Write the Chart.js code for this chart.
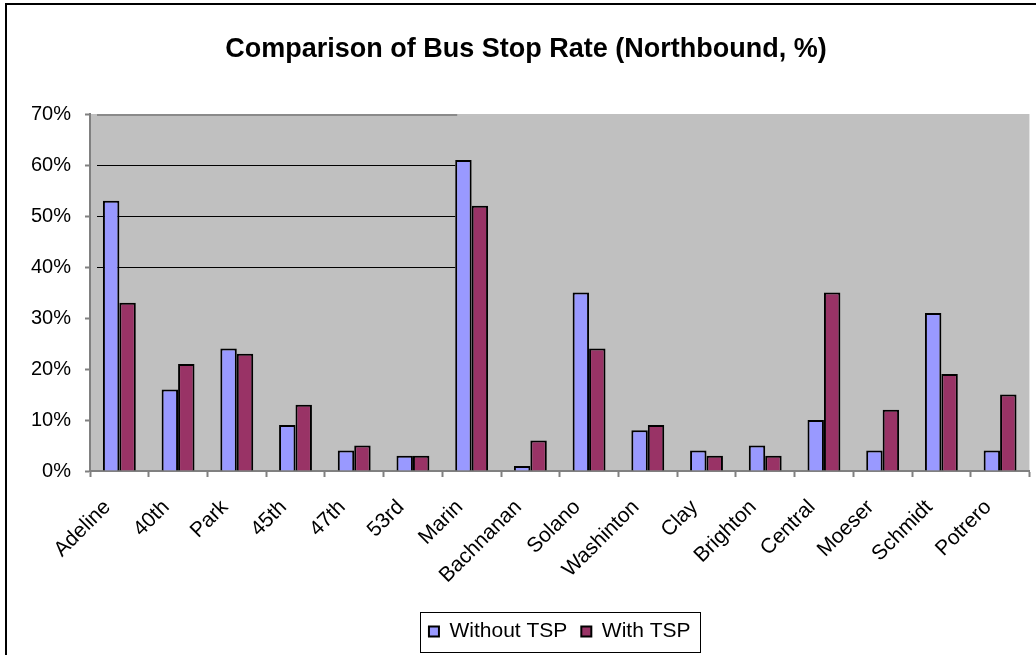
<!DOCTYPE html>
<html>
<head>
<meta charset="utf-8">
<script src="https://cdn.jsdelivr.net/npm/chart.js@4"></script>
<style>
  html, body { margin: 0; padding: 0; background: #fff; overflow: hidden; }
  #wrap { width: 1036px; height: 655px; position: relative; }
</style>
</head>
<body>
<div id="wrap"><canvas id="c" width="1036" height="655"></canvas></div>
<script>
// Stop names along the northbound route
const stops = ['Adeline', '40th', 'Park', '45th', '47th', '53rd', 'Marin', 'Bachnanan',
               'Solano', 'Washinton', 'Clay', 'Brighton', 'Central', 'Moeser', 'Schmidt', 'Potrero'];
// Stop rate in percent, without and with transit signal priority
const withoutTSP = [53, 16, 24, 9, 4, 3, 61, 1, 35, 8, 4, 5, 10, 4, 31, 4];
const withTSP    = [33, 21, 23, 13, 5, 3, 52, 6, 24, 9, 3, 3, 35, 12, 19, 15];
// Value axis range and step (percent)
const yMin = 0, yMax = 70, yStep = 10;

const FONT = "'Liberation Sans', Arial, sans-serif";

// Grey plot area and the outer frame of the chart
const backdrop = {
  id: 'backdrop',
  beforeDraw(chart) {
    const { ctx, chartArea: a } = chart;
    ctx.save();
    ctx.fillStyle = '#ffffff';
    ctx.fillRect(0, 0, chart.width, chart.height);
    ctx.fillStyle = '#c0c0c0';
    ctx.fillRect(a.left, a.top, a.right - a.left, a.bottom - a.top);
    ctx.strokeStyle = '#000000';
    ctx.lineWidth = 2;
    ctx.strokeRect(6, 4, chart.width + 20, chart.height + 20);
    ctx.restore();
  }
};

// Upper gridlines, running from the value axis to the Marin group
const partialGrid = {
  id: 'partialGrid',
  beforeDatasetsDraw(chart) {
    const { ctx, chartArea: a } = chart;
    const y = chart.scales.y;
    const meta = chart.getDatasetMeta(0);
    const stopIdx = stops.indexOf('Marin');
    const bar = meta.data[stopIdx];
    if (!bar) return;
    const xEnd = bar.x - bar.width / 2;
    const xStart = a.left + 7;
    ctx.save();
    y.ticks.forEach(t => {
      if (t.value < 40) return;
      const py = Math.round(y.getPixelForValue(t.value));
      ctx.beginPath();
      if (t.value === yMax) {
        ctx.strokeStyle = '#8a8a8a';
        ctx.lineWidth = 2;
        ctx.moveTo(xStart, py + 1);
        ctx.lineTo(xEnd + 2, py + 1);
      } else {
        ctx.strokeStyle = '#000000';
        ctx.lineWidth = 1;
        ctx.moveTo(xStart, py + 0.5);
        ctx.lineTo(xEnd, py + 0.5);
      }
      ctx.stroke();
    });
    ctx.restore();
  }
};

// Thin frame round the legend items
const legendFrame = {
  id: 'legendFrame',
  afterDraw(chart) {
    const lg = chart.legend;
    if (!lg || !lg.legendHitBoxes || !lg.legendHitBoxes.length) return;
    const hb = lg.legendHitBoxes;
    const first = hb[0], last = hb[hb.length - 1];
    const left = first.left - 9;
    const right = last.left + last.width + 9;
    const top = first.top - 9;
    const bottom = first.top + first.height + 10;
    const ctx = chart.ctx;
    ctx.save();
    ctx.strokeStyle = '#000000';
    ctx.lineWidth = 1;
    ctx.strokeRect(Math.round(left) + 0.5, Math.round(top) + 0.5,
                   Math.round(right - left), Math.round(bottom - top));
    ctx.restore();
  }
};

new Chart(document.getElementById('c'), {
  type: 'bar',
  data: {
    labels: stops,
    datasets: [
      {
        label: 'Without TSP',
        data: withoutTSP,
        backgroundColor: '#9999ff',
        borderColor: '#000000',
        borderWidth: 2,
        categoryPercentage: 0.56,
        barPercentage: 1.0
      },
      {
        label: 'With TSP',
        data: withTSP,
        backgroundColor: '#993366',
        borderColor: '#000000',
        borderWidth: 2,
        categoryPercentage: 0.56,
        barPercentage: 1.0
      }
    ]
  },
  options: {
    responsive: false,
    animation: false,
    devicePixelRatio: 1,
    layout: { padding: { left: 19, right: 3, top: 0, bottom: 3 } },
    plugins: {
      title: {
        display: true,
        text: 'Comparison of Bus Stop Rate (Northbound, %)',
        color: '#000000',
        font: { family: FONT, size: 27, weight: 'bold' },
        padding: { top: 33, bottom: 48.6 }
      },
      legend: {
        display: true,
        position: 'bottom',
        fullSize: false,
        labels: {
          color: '#000000',
          font: { family: FONT, size: 21 },
          boxWidth: 10,
          boxHeight: 10,
          padding: 14
        }
      },
      tooltip: { enabled: false }
    },
    scales: {
      x: {
        offset: true,
        grid: {
          display: true,
          offset: true,
          drawOnChartArea: false,
          drawTicks: true,
          tickLength: 6,
          tickColor: '#808080',
          tickWidth: 2
        },
        border: { display: true, color: '#808080', width: 2 },
        ticks: {
          color: '#000000',
          font: { family: FONT, size: 21 },
          minRotation: 45,
          maxRotation: 45,
          autoSkip: false,
          padding: 18,
          labelOffset: -12
        },
        afterFit(scale) { scale.height = 136; }
      },
      y: {
        min: yMin,
        max: yMax,
        grid: {
          display: true,
          drawOnChartArea: false,
          drawTicks: true,
          tickLength: 5,
          tickColor: '#808080',
          tickWidth: 2
        },
        border: { display: true, color: '#808080', width: 2 },
        ticks: {
          stepSize: yStep,
          color: '#000000',
          font: { family: FONT, size: 20 },
          padding: 14,
          callback: v => v + '%'
        },
        afterFit(scale) { scale.width = 71; }
      }
    }
  },
  plugins: [backdrop, partialGrid, legendFrame]
});
</script>
</body>
</html>
